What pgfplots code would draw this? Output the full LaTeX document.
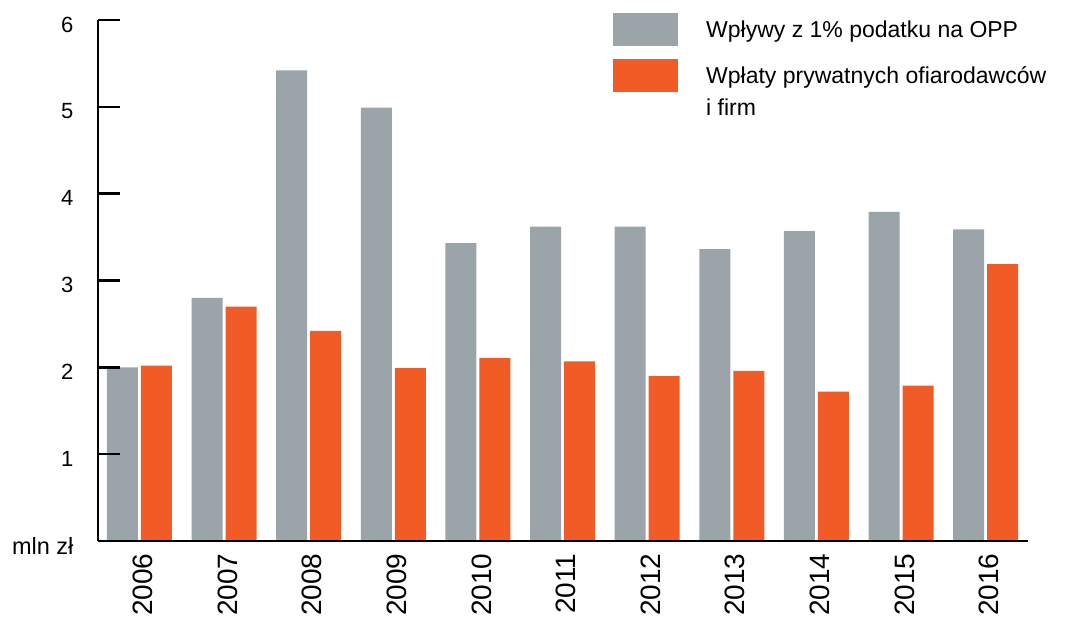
\documentclass[border=0pt]{standalone}
\usepackage{pgfplots}
\pgfplotsset{compat=1.18}
\usepackage{fontspec}
\setmainfont{Liberation Sans}
\definecolor{gbar}{RGB}{154,164,169}
\definecolor{obar}{RGB}{241,92,38}
\pgfplotsset{mybox/.style={legend image code/.code={\fill[##1] (0bp,-9bp) rectangle (65bp,24bp);}}}
\begin{document}
\begin{tikzpicture}
\begin{axis}[name=ax, scale only axis, width=930bp, height=521bp,
  xmin=-0.49, xmax=10.5, ymin=0, ymax=6,
  axis x line=bottom, axis y line=left,
  axis line style={-, line width=2.6bp, black},
  axis on top,
  xtick={0,1,2,3,4,5,6,7,8,9,10},
  xticklabels={2006,2007,2008,2009,2010,2011,2012,2013,2014,2015,2016},
  x tick style={draw=none},
  ytick={0,1,2,3,4,5,6},
  yticklabels={\raisebox{-3.5bp}{\fontsize{23.5bp}{26bp}\selectfont mln zł},1,2,3,4,5,6},
  y tick style={line width=2.4bp, black},
  major tick length=22bp, tick align=inside,
  yticklabel style={font=\fontsize{22bp}{26bp}\selectfont, xshift=-21bp, yshift=-4.5bp},
  xticklabel style={font=\fontsize{28bp}{32bp}\selectfont, xshift=3.5bp, yshift=-9bp, rotate=90, anchor=east},
  legend style={at={(rel axis cs:0,1)}, anchor=north west, xshift=515bp, yshift=7bp,
    draw=none, fill=none, inner sep=0pt, row sep=13bp, column sep=28bp,
    font=\fontsize{23bp}{32bp}\selectfont,
    nodes={inner sep=0pt}, cells={anchor=base west}},
]
\addplot[ybar, fill=gbar, draw=none, bar width=31bp, bar shift=-17bp, mybox] coordinates {
 (0,2.00) (1,2.80) (2,5.42) (3,4.99) (4,3.43) (5,3.62) (6,3.62) (7,3.36) (8,3.57) (9,3.79) (10,3.59)};
\addlegendentry{Wpływy z 1\% podatku na OPP}
\addplot[ybar, fill=obar, draw=none, bar width=31bp, bar shift=17bp, mybox] coordinates {
 (0,2.02) (1,2.70) (2,2.42) (3,1.99) (4,2.11) (5,2.07) (6,1.90) (7,1.96) (8,1.72) (9,1.79) (10,3.19)};
\addlegendentry{\begin{tabular}[t]{@{}l@{}}Wpłaty prywatnych ofiarodawców\\i firm\end{tabular}}
\end{axis}
\pgfresetboundingbox
\path (ax.south west) ++(-98bp,-80bp) rectangle ++(1067bp,621bp);
\end{tikzpicture}
\end{document}
